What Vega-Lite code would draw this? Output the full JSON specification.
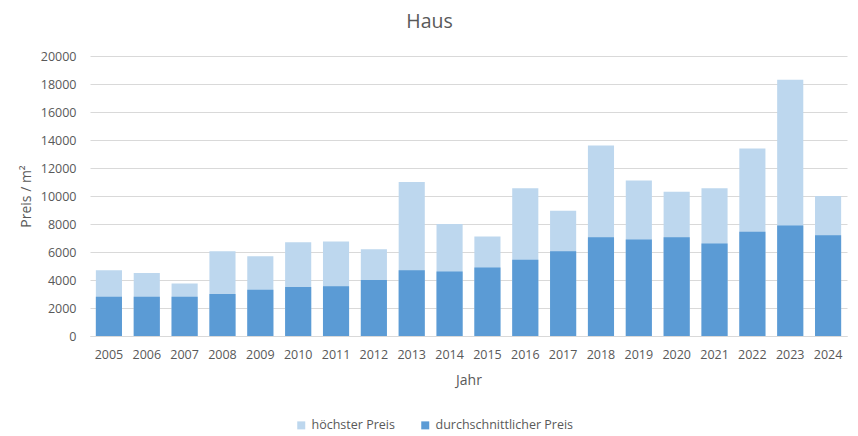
{
  "$schema": "https://vega.github.io/schema/vega-lite/v6.json",
  "width": 757,
  "height": 280,
  "autosize": "none",
  "padding": {"left": 90, "top": 56, "right": 11, "bottom": 100},
  "background": "white",
  "config": {
    "font": "Open Sans",
    "view": {"stroke": null},
    "axis": {"labelColor": "#595959", "titleColor": "#595959", "labelFont": "Open Sans", "titleFont": "Open Sans", "titleFontWeight": "normal"}
  },
  "title": {"text": "Haus", "fontSize": 19.5, "fontWeight": "normal", "color": "#595959", "font": "Open Sans", "anchor": "middle", "dx": -39, "offset": 18},
  "data": {
    "values": [
      {"Jahr": "2005", "Serie": "höchster Preis", "Preis": 4700},
      {"Jahr": "2006", "Serie": "höchster Preis", "Preis": 4500},
      {"Jahr": "2007", "Serie": "höchster Preis", "Preis": 3750},
      {"Jahr": "2008", "Serie": "höchster Preis", "Preis": 6050},
      {"Jahr": "2009", "Serie": "höchster Preis", "Preis": 5700},
      {"Jahr": "2010", "Serie": "höchster Preis", "Preis": 6700},
      {"Jahr": "2011", "Serie": "höchster Preis", "Preis": 6750},
      {"Jahr": "2012", "Serie": "höchster Preis", "Preis": 6200},
      {"Jahr": "2013", "Serie": "höchster Preis", "Preis": 11000},
      {"Jahr": "2014", "Serie": "höchster Preis", "Preis": 8000},
      {"Jahr": "2015", "Serie": "höchster Preis", "Preis": 7100},
      {"Jahr": "2016", "Serie": "höchster Preis", "Preis": 10550},
      {"Jahr": "2017", "Serie": "höchster Preis", "Preis": 8950},
      {"Jahr": "2018", "Serie": "höchster Preis", "Preis": 13600},
      {"Jahr": "2019", "Serie": "höchster Preis", "Preis": 11100},
      {"Jahr": "2020", "Serie": "höchster Preis", "Preis": 10300},
      {"Jahr": "2021", "Serie": "höchster Preis", "Preis": 10550},
      {"Jahr": "2022", "Serie": "höchster Preis", "Preis": 13400},
      {"Jahr": "2023", "Serie": "höchster Preis", "Preis": 18300},
      {"Jahr": "2024", "Serie": "höchster Preis", "Preis": 10000},
      {"Jahr": "2005", "Serie": "durchschnittlicher Preis", "Preis": 2800},
      {"Jahr": "2006", "Serie": "durchschnittlicher Preis", "Preis": 2800},
      {"Jahr": "2007", "Serie": "durchschnittlicher Preis", "Preis": 2800},
      {"Jahr": "2008", "Serie": "durchschnittlicher Preis", "Preis": 3000},
      {"Jahr": "2009", "Serie": "durchschnittlicher Preis", "Preis": 3300},
      {"Jahr": "2010", "Serie": "durchschnittlicher Preis", "Preis": 3500},
      {"Jahr": "2011", "Serie": "durchschnittlicher Preis", "Preis": 3550},
      {"Jahr": "2012", "Serie": "durchschnittlicher Preis", "Preis": 4000},
      {"Jahr": "2013", "Serie": "durchschnittlicher Preis", "Preis": 4700},
      {"Jahr": "2014", "Serie": "durchschnittlicher Preis", "Preis": 4600},
      {"Jahr": "2015", "Serie": "durchschnittlicher Preis", "Preis": 4900},
      {"Jahr": "2016", "Serie": "durchschnittlicher Preis", "Preis": 5450},
      {"Jahr": "2017", "Serie": "durchschnittlicher Preis", "Preis": 6050},
      {"Jahr": "2018", "Serie": "durchschnittlicher Preis", "Preis": 7050},
      {"Jahr": "2019", "Serie": "durchschnittlicher Preis", "Preis": 6900},
      {"Jahr": "2020", "Serie": "durchschnittlicher Preis", "Preis": 7050},
      {"Jahr": "2021", "Serie": "durchschnittlicher Preis", "Preis": 6600},
      {"Jahr": "2022", "Serie": "durchschnittlicher Preis", "Preis": 7450},
      {"Jahr": "2023", "Serie": "durchschnittlicher Preis", "Preis": 7900},
      {"Jahr": "2024", "Serie": "durchschnittlicher Preis", "Preis": 7200}
    ]
  },
  "mark": {"type": "bar"},
  "encoding": {
    "x": {
      "field": "Jahr", "type": "ordinal",
      "scale": {"paddingInner": 0.31, "paddingOuter": 0.155},
      "axis": {"labelAngle": 0, "labelFontSize": 12.5, "ticks": false, "domainColor": "#D9D9D9", "labelPadding": 12, "title": "Jahr", "titleFontSize": 14, "titlePadding": 13}
    },
    "y": {
      "field": "Preis", "type": "quantitative", "stack": null,
      "scale": {"domain": [0, 20000]},
      "axis": {"values": [0, 2000, 4000, 6000, 8000, 10000, 12000, 14000, 16000, 18000, 20000], "format": "d", "labelFontSize": 12.5, "ticks": false, "domain": false, "gridColor": "#D9D9D9", "labelPadding": 14, "title": "Preis / m²", "titleFontSize": 14, "titlePadding": 7}
    },
    "color": {
      "field": "Serie", "type": "nominal",
      "scale": {"domain": ["höchster Preis", "durchschnittlicher Preis"], "range": ["#BDD7EE", "#5B9BD5"]},
      "legend": {"orient": "none", "legendX": 205, "legendY": 363, "direction": "horizontal", "title": null, "symbolType": "square", "symbolSize": 64, "symbolStrokeWidth": 0, "labelFontSize": 12.5, "labelColor": "#595959", "labelFont": "Open Sans", "columnPadding": 24, "labelOffset": 4}
    },
    "order": {"field": "Preis", "sort": "descending"}
  }
}
